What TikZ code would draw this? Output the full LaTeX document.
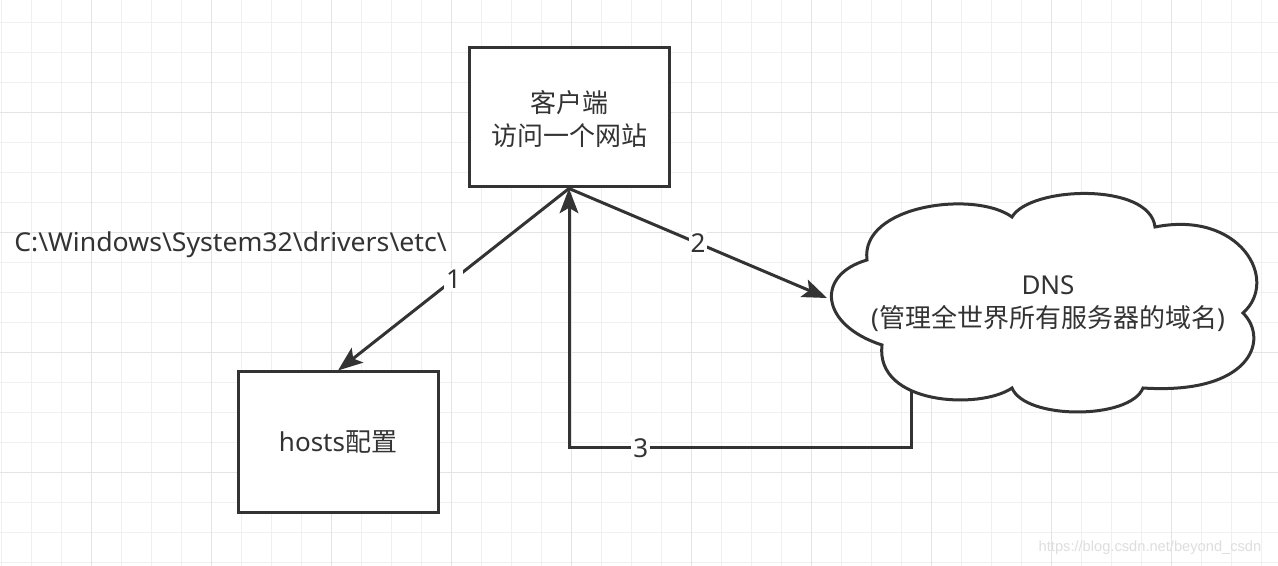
\documentclass[tikz,border=0pt]{standalone}
\usepackage{fontspec}
\setmainfont{Noto Sans}
\newfontfamily\cjk{Noto Sans CJK SC}
\newfontfamily\wmfont{Liberation Sans}
\usetikzlibrary{arrows.meta}
\definecolor{ink}{HTML}{333333}
\definecolor{gridminor}{HTML}{F0F0F0}
\definecolor{gridmajor}{HTML}{E4E4E4}
\definecolor{wmark}{HTML}{DEDEDE}

\begin{document}
\begin{tikzpicture}[x=0.75pt,y=-0.75pt,
  box/.style={draw=ink, line width=2.25pt, fill=white, inner sep=0pt},
  lbl/.style={font=\fontsize{19.5}{24.75}\selectfont, text=ink, align=center, inner sep=0pt},
  link/.style={draw=ink, line width=2.25pt, line join=miter,
    -{Stealth[length=18.5pt,width=14pt,inset=4pt]}},
  tag/.style={lbl, fill=white, inner sep=1.5pt},
  minorline/.style={draw=gridminor, line width=0.75pt},
  majorline/.style={draw=gridmajor, line width=0.75pt},
]
\useasboundingbox (0,0) rectangle (1278,566);
\fill[white] (0,0) rectangle (1278,566);

% background grid
\foreach \gx in {0,...,42} \draw[minorline] ({1.5+30*\gx},0) -- ({1.5+30*\gx},566);
\foreach \gy in {0,...,18} \draw[minorline] (0,{22.5+30*\gy}) -- (1278,{22.5+30*\gy});
\foreach \gx in {0,...,9} \draw[majorline] ({91.5+120*\gx},0) -- ({91.5+120*\gx},566);
\foreach \gy in {0,...,3} \draw[majorline] (0,{112.5+120*\gy}) -- (1278,{112.5+120*\gy});

% boxes
\node[box, minimum width=150pt, minimum height=104.25pt] (client) at (569,117.5) {};
\node[lbl] (clienttext) at (569,119) {{\cjk 客户端}\\{\cjk 访问一个网站}};
\node[box, minimum width=150pt, minimum height=105pt] (hosts) at (338,442) {};
\node[lbl] (hoststext) at (338,442) {hosts{\cjk 配置}};

% DNS cloud
\coordinate (cA) at (867,260);
\coordinate (cB) at (1012,217);
\coordinate (cC) at (1155,227);
\coordinate (cD) at (1243,313);
\coordinate (cE) at (1143,388);
\coordinate (cF) at (1012,388);
\coordinate (cG) at (882,345);
\draw[ink, line width=2.25pt, fill=white]
  (cA) .. controls (860,205) and (975,190) .. (cB)
       .. controls (1030,186) and (1150,182) .. (cC)
       .. controls (1240,210) and (1280,280) .. (cD)
       .. controls (1270,340) and (1250,395) .. (cE)
       .. controls (1130,420) and (1025,420) .. (cF)
       .. controls (980,410) and (875,405) .. (cG)
       .. controls (820,325) and (815,275) .. (cA) -- cycle;
\coordinate (dnsW) at (827,298);
\coordinate (dnsS) at (911,390);
\node[lbl] (dns) at (1048,304) {DNS\\({\cjk 管理全世界所有服务器的域名})};

% file location note
\node[lbl, anchor=west, xscale=1.025] (path) at (14,245) {C:\textbackslash Windows\textbackslash System32\textbackslash drivers\textbackslash etc\textbackslash};

% connectors
\draw[link] (client.south) -- node[tag, pos=0.5] {1} (hosts.north);
\draw[link] (client.south) -- node[tag, pos=0.5] {2} (dnsW);
\coordinate (turnR) at (911,448);
\coordinate (turnL) at (569,448);
\draw[link] (dnsS) -- (turnR) -- node[tag, pos=0.79] {3} (turnL) -- (client.south);

% watermark
\node[font=\wmfont\fontsize{11}{13}\selectfont, text=wmark, inner sep=0pt] (wm) at (1150,548) {https://blog.csdn.net/beyond\_csdn};
\end{tikzpicture}
\end{document}
